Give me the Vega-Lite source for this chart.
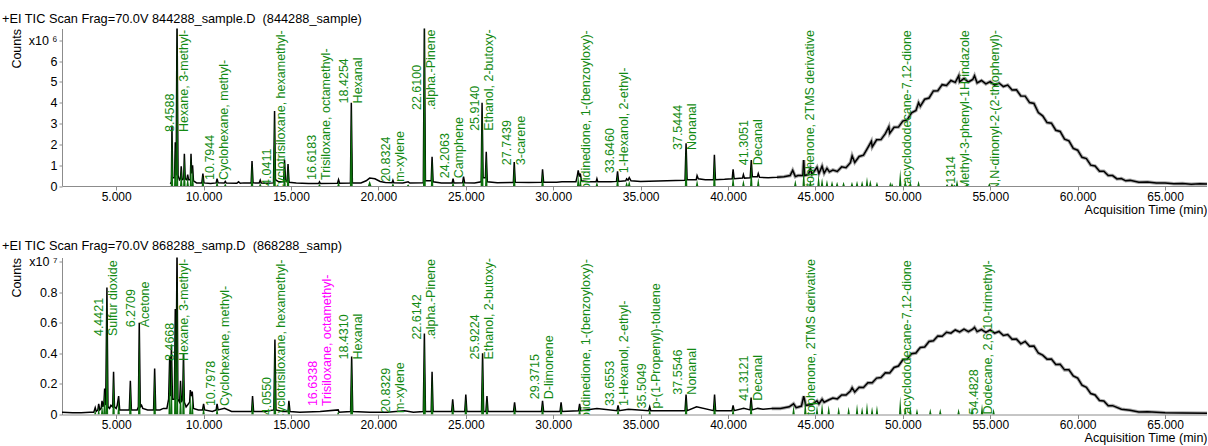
{
"$schema":"https://vega.github.io/schema/vega-lite/v6.json",
"padding":{"left":2,"top":12.5,"right":0,"bottom":0},
"spacing":24,
"config":{"font":"Liberation Sans","view":{"stroke":null},"axis":{"labelColor":"black","titleColor":"black","domainColor":"#8c8c8c","tickColor":"#8c8c8c","grid":false}},
"datasets":{
"tic1":[{"t":8.1,"v":0.1},{"t":8.16,"v":0.2},{"t":8.19,"v":2.9},{"t":8.23,"v":0.4},{"t":8.34,"v":0.4},{"t":8.38,"v":2.1},{"t":8.43,"v":0.5},{"t":8.48,"v":8.2},{"t":8.54,"v":0.5},{"t":8.62,"v":0.3},{"t":8.68,"v":0.35},{"t":8.72,"v":0.95},{"t":8.77,"v":0.3},{"t":8.86,"v":0.35},{"t":8.9,"v":1.55},{"t":8.95,"v":0.35},{"t":9.04,"v":0.3},{"t":9.09,"v":0.55},{"t":9.14,"v":0.3},{"t":9.24,"v":0.3},{"t":9.28,"v":1.55},{"t":9.32,"v":0.6},{"t":9.37,"v":1.0},{"t":9.42,"v":0.25},{"t":9.6,"v":0.15},{"t":9.9,"v":0.15},{"t":9.96,"v":0.6},{"t":10.02,"v":0.15},{"t":10.4,"v":0.12},{"t":10.72,"v":0.15},{"t":10.77,"v":0.35},{"t":10.83,"v":0.15},{"t":11.18,"v":0.14},{"t":11.24,"v":0.22},{"t":11.3,"v":0.14},{"t":11.9,"v":0.13},{"t":12.0,"v":0.2},{"t":12.1,"v":0.13},{"t":12.3,"v":0.15},{"t":12.72,"v":0.15},{"t":12.77,"v":1.2},{"t":12.83,"v":0.15},{"t":13.18,"v":0.14},{"t":13.24,"v":0.28},{"t":13.3,"v":0.14},{"t":13.6,"v":0.13},{"t":14.0,"v":0.15},{"t":14.06,"v":3.6},{"t":14.11,"v":0.3},{"t":14.3,"v":0.2},{"t":14.58,"v":0.2},{"t":14.63,"v":1.25},{"t":14.69,"v":0.25},{"t":14.78,"v":0.2},{"t":14.83,"v":1.05},{"t":14.89,"v":0.18},{"t":15.3,"v":0.14},{"t":16.0,"v":0.12},{"t":16.58,"v":0.12},{"t":16.63,"v":0.2},{"t":16.68,"v":0.12},{"t":17.66,"v":0.13},{"t":17.72,"v":0.3},{"t":17.78,"v":0.13},{"t":18.4,"v":0.14},{"t":18.45,"v":4.0},{"t":18.51,"v":0.15},{"t":19.0,"v":0.15},{"t":19.3,"v":0.25},{"t":19.5,"v":0.38},{"t":19.8,"v":0.35},{"t":20.1,"v":0.22},{"t":20.4,"v":0.17},{"t":20.78,"v":0.16},{"t":20.83,"v":0.28},{"t":20.88,"v":0.16},{"t":21.4,"v":0.14},{"t":21.7,"v":0.2},{"t":21.8,"v":0.14},{"t":22.57,"v":0.15},{"t":22.63,"v":8.0},{"t":22.69,"v":0.25},{"t":23.02,"v":0.25},{"t":23.07,"v":1.4},{"t":23.13,"v":0.2},{"t":23.6,"v":0.15},{"t":24.22,"v":0.15},{"t":24.27,"v":0.35},{"t":24.32,"v":0.15},{"t":24.82,"v":0.16},{"t":24.87,"v":0.45},{"t":24.93,"v":0.16},{"t":25.5,"v":0.15},{"t":25.88,"v":0.2},{"t":25.93,"v":4.0},{"t":25.99,"v":0.4},{"t":26.12,"v":0.4},{"t":26.17,"v":1.65},{"t":26.23,"v":0.2},{"t":26.8,"v":0.16},{"t":27.72,"v":0.17},{"t":27.77,"v":1.15},{"t":27.83,"v":0.18},{"t":28.6,"v":0.17},{"t":29.34,"v":0.18},{"t":29.39,"v":0.8},{"t":29.45,"v":0.18},{"t":30.2,"v":0.18},{"t":30.5,"v":0.2},{"t":31.3,"v":0.2},{"t":31.38,"v":0.5},{"t":31.43,"v":0.75},{"t":31.5,"v":0.45},{"t":31.55,"v":0.6},{"t":31.62,"v":0.25},{"t":32.0,"v":0.2},{"t":32.45,"v":0.2},{"t":32.5,"v":0.35},{"t":32.55,"v":0.2},{"t":33.3,"v":0.2},{"t":33.62,"v":0.22},{"t":33.68,"v":0.7},{"t":33.74,"v":0.22},{"t":34.15,"v":0.25},{"t":34.2,"v":0.35},{"t":34.28,"v":0.28},{"t":34.35,"v":0.4},{"t":34.45,"v":0.25},{"t":35.0,"v":0.22},{"t":36.0,"v":0.24},{"t":37.0,"v":0.26},{"t":37.54,"v":0.28},{"t":37.6,"v":2.05},{"t":37.66,"v":0.3},{"t":38.18,"v":0.3},{"t":38.23,"v":0.5},{"t":38.3,"v":0.35},{"t":38.7,"v":0.3},{"t":39.17,"v":0.3},{"t":39.22,"v":1.5},{"t":39.28,"v":0.3},{"t":39.8,"v":0.32},{"t":40.24,"v":0.35},{"t":40.29,"v":0.8},{"t":40.35,"v":0.35},{"t":40.83,"v":0.38},{"t":40.88,"v":0.55},{"t":40.94,"v":0.38},{"t":41.27,"v":0.4},{"t":41.33,"v":1.25},{"t":41.39,"v":0.45},{"t":41.68,"v":0.45},{"t":41.73,"v":0.6},{"t":41.8,"v":0.42},{"t":42.3,"v":0.4},{"t":42.8,"v":0.42},{"t":43.2,"v":0.45},{"t":43.55,"v":0.5},{"t":43.7,"v":0.75},{"t":43.85,"v":0.45},{"t":44.0,"v":0.5},{"t":44.28,"v":0.5},{"t":44.33,"v":1.25},{"t":44.38,"v":0.5},{"t":44.6,"v":0.55},{"t":44.71,"v":0.85},{"t":44.8,"v":0.55},{"t":45.09,"v":0.9},{"t":45.2,"v":0.6},{"t":45.38,"v":0.95},{"t":45.5,"v":0.62},{"t":45.66,"v":0.85},{"t":45.8,"v":0.68},{"t":46.0,"v":0.77},{"t":46.25,"v":0.7},{"t":46.5,"v":0.92},{"t":46.75,"v":0.88},{"t":47.0,"v":1.12},{"t":47.1,"v":1.45},{"t":47.25,"v":1.13},{"t":47.5,"v":1.42},{"t":47.75,"v":1.48},{"t":48.0,"v":1.85},{"t":48.2,"v":2.15},{"t":48.25,"v":1.88},{"t":48.5,"v":2.22},{"t":48.75,"v":2.23},{"t":49.0,"v":2.52},{"t":49.2,"v":2.85},{"t":49.25,"v":2.53},{"t":49.5,"v":2.82},{"t":49.75,"v":2.83},{"t":50.0,"v":3.12},{"t":50.25,"v":3.18},{"t":50.5,"v":3.52},{"t":50.75,"v":3.63},{"t":50.9,"v":4.0},{"t":51.0,"v":3.83},{"t":51.25,"v":4.17},{"t":51.5,"v":4.23},{"t":51.75,"v":4.57},{"t":52.0,"v":4.58},{"t":52.25,"v":4.87},{"t":52.5,"v":4.83},{"t":52.75,"v":5.07},{"t":53.0,"v":4.98},{"t":53.2,"v":5.3},{"t":53.25,"v":5.01},{"t":53.5,"v":5.17},{"t":53.75,"v":5.0},{"t":54.0,"v":5.12},{"t":54.1,"v":5.3},{"t":54.25,"v":4.95},{"t":54.5,"v":5.07},{"t":54.75,"v":4.91},{"t":55.0,"v":5.02},{"t":55.25,"v":4.85},{"t":55.5,"v":4.95},{"t":55.75,"v":4.78},{"t":56.0,"v":4.85},{"t":56.25,"v":4.61},{"t":56.5,"v":4.62},{"t":56.75,"v":4.33},{"t":57.0,"v":4.32},{"t":57.25,"v":4.01},{"t":57.5,"v":3.97},{"t":57.75,"v":3.53},{"t":58.0,"v":3.37},{"t":58.25,"v":3.05},{"t":58.5,"v":3.02},{"t":58.75,"v":2.68},{"t":59.0,"v":2.62},{"t":59.25,"v":2.25},{"t":59.5,"v":2.17},{"t":59.75,"v":1.81},{"t":60.0,"v":1.72},{"t":60.25,"v":1.38},{"t":60.5,"v":1.32},{"t":60.75,"v":1.0},{"t":61.0,"v":0.96},{"t":61.25,"v":0.71},{"t":61.5,"v":0.71},{"t":61.75,"v":0.5},{"t":62.0,"v":0.5},{"t":62.25,"v":0.34},{"t":62.5,"v":0.36},{"t":62.75,"v":0.25},{"t":63.0,"v":0.27},{"t":63.5,"v":0.18},{"t":64.0,"v":0.19},{"t":64.5,"v":0.14},{"t":65.0,"v":0.15},{"t":65.5,"v":0.11},{"t":66.0,"v":0.12},{"t":66.5,"v":0.09},{"t":67.0,"v":0.11},{"t":67.4,"v":0.1}],
"tic2":[{"t":1.9,"v":0.015},{"t":2.5,"v":0.012},{"t":3.0,"v":0.012},{"t":3.5,"v":0.015},{"t":3.72,"v":0.015},{"t":3.8,"v":0.045},{"t":3.86,"v":0.02},{"t":3.95,"v":0.03},{"t":4.0,"v":0.07},{"t":4.06,"v":0.03},{"t":4.14,"v":0.04},{"t":4.19,"v":0.09},{"t":4.24,"v":0.05},{"t":4.3,"v":0.08},{"t":4.34,"v":0.17},{"t":4.4,"v":0.06},{"t":4.47,"v":0.83},{"t":4.53,"v":0.05},{"t":4.62,"v":0.04},{"t":4.7,"v":0.06},{"t":4.8,"v":0.05},{"t":4.85,"v":0.28},{"t":4.9,"v":0.05},{"t":5.0,"v":0.04},{"t":5.06,"v":0.06},{"t":5.14,"v":0.12},{"t":5.2,"v":0.03},{"t":5.6,"v":0.03},{"t":5.75,"v":0.03},{"t":5.81,"v":0.22},{"t":5.87,"v":0.03},{"t":6.2,"v":0.03},{"t":6.27,"v":0.05},{"t":6.32,"v":0.6},{"t":6.38,"v":0.05},{"t":6.45,"v":0.06},{"t":6.52,"v":0.04},{"t":6.8,"v":0.03},{"t":7.14,"v":0.03},{"t":7.2,"v":0.3},{"t":7.26,"v":0.03},{"t":7.5,"v":0.03},{"t":7.7,"v":0.04},{"t":7.9,"v":0.04},{"t":8.0,"v":0.1},{"t":8.06,"v":0.38},{"t":8.1,"v":0.12},{"t":8.16,"v":0.45},{"t":8.22,"v":0.1},{"t":8.33,"v":0.1},{"t":8.38,"v":0.69},{"t":8.42,"v":0.1},{"t":8.48,"v":1.1},{"t":8.53,"v":0.1},{"t":8.63,"v":0.08},{"t":8.68,"v":0.22},{"t":8.73,"v":0.08},{"t":8.8,"v":0.1},{"t":8.85,"v":0.4},{"t":8.9,"v":0.08},{"t":9.0,"v":0.05},{"t":9.2,"v":0.08},{"t":9.24,"v":0.16},{"t":9.3,"v":0.12},{"t":9.35,"v":0.15},{"t":9.42,"v":0.04},{"t":9.7,"v":0.03},{"t":9.94,"v":0.03},{"t":10.0,"v":0.07},{"t":10.06,"v":0.03},{"t":10.5,"v":0.02},{"t":10.72,"v":0.03},{"t":10.77,"v":0.07},{"t":10.83,"v":0.03},{"t":11.2,"v":0.04},{"t":11.6,"v":0.02},{"t":12.5,"v":0.02},{"t":12.75,"v":0.02},{"t":12.8,"v":0.12},{"t":12.86,"v":0.02},{"t":13.5,"v":0.02},{"t":14.02,"v":0.03},{"t":14.08,"v":0.49},{"t":14.14,"v":0.03},{"t":14.5,"v":0.02},{"t":14.83,"v":0.02},{"t":14.88,"v":0.09},{"t":14.94,"v":0.02},{"t":15.5,"v":0.015},{"t":16.67,"v":0.02},{"t":17.7,"v":0.03},{"t":17.75,"v":0.015},{"t":18.41,"v":0.02},{"t":18.47,"v":0.38},{"t":18.53,"v":0.02},{"t":19.5,"v":0.015},{"t":20.5,"v":0.015},{"t":21.5,"v":0.025},{"t":22.0,"v":0.015},{"t":22.57,"v":0.02},{"t":22.63,"v":0.53},{"t":22.69,"v":0.02},{"t":23.02,"v":0.02},{"t":23.07,"v":0.28},{"t":23.13,"v":0.02},{"t":24.19,"v":0.02},{"t":24.25,"v":0.1},{"t":24.31,"v":0.02},{"t":24.94,"v":0.02},{"t":25.0,"v":0.13},{"t":25.06,"v":0.02},{"t":25.9,"v":0.02},{"t":25.96,"v":0.4},{"t":26.02,"v":0.02},{"t":26.15,"v":0.02},{"t":26.21,"v":0.12},{"t":26.27,"v":0.02},{"t":27.73,"v":0.02},{"t":27.79,"v":0.08},{"t":27.85,"v":0.02},{"t":29.33,"v":0.02},{"t":29.39,"v":0.09},{"t":29.45,"v":0.02},{"t":30.39,"v":0.02},{"t":30.45,"v":0.08},{"t":30.51,"v":0.02},{"t":31.45,"v":0.025},{"t":31.51,"v":0.07},{"t":31.57,"v":0.025},{"t":32.5,"v":0.04},{"t":33.65,"v":0.025},{"t":33.71,"v":0.06},{"t":33.77,"v":0.025},{"t":34.3,"v":0.035},{"t":35.46,"v":0.025},{"t":35.52,"v":0.05},{"t":35.58,"v":0.025},{"t":37.54,"v":0.025},{"t":37.6,"v":0.13},{"t":37.66,"v":0.025},{"t":38.2,"v":0.05},{"t":39.17,"v":0.025},{"t":39.23,"v":0.13},{"t":39.29,"v":0.025},{"t":40.23,"v":0.025},{"t":40.29,"v":0.06},{"t":40.35,"v":0.025},{"t":40.9,"v":0.04},{"t":41.26,"v":0.03},{"t":41.32,"v":0.11},{"t":41.38,"v":0.03},{"t":41.7,"v":0.04},{"t":42.0,"v":0.035},{"t":42.5,"v":0.04},{"t":43.0,"v":0.04},{"t":43.5,"v":0.05},{"t":43.75,"v":0.07},{"t":43.9,"v":0.045},{"t":44.2,"v":0.055},{"t":44.33,"v":0.12},{"t":44.45,"v":0.06},{"t":44.8,"v":0.065},{"t":45.09,"v":0.09},{"t":45.2,"v":0.07},{"t":45.38,"v":0.1},{"t":45.5,"v":0.08},{"t":45.75,"v":0.095},{"t":46.0,"v":0.108},{"t":46.25,"v":0.102},{"t":46.5,"v":0.128},{"t":46.75,"v":0.127},{"t":47.0,"v":0.153},{"t":47.1,"v":0.175},{"t":47.25,"v":0.147},{"t":47.5,"v":0.178},{"t":47.75,"v":0.177},{"t":48.0,"v":0.208},{"t":48.25,"v":0.207},{"t":48.5,"v":0.238},{"t":48.75,"v":0.242},{"t":49.0,"v":0.273},{"t":49.25,"v":0.272},{"t":49.5,"v":0.308},{"t":49.75,"v":0.317},{"t":50.0,"v":0.358},{"t":50.25,"v":0.362},{"t":50.5,"v":0.398},{"t":50.75,"v":0.402},{"t":50.9,"v":0.425},{"t":51.0,"v":0.438},{"t":51.25,"v":0.442},{"t":51.5,"v":0.478},{"t":51.75,"v":0.482},{"t":52.0,"v":0.513},{"t":52.25,"v":0.512},{"t":52.5,"v":0.538},{"t":52.75,"v":0.532},{"t":53.0,"v":0.553},{"t":53.25,"v":0.54},{"t":53.5,"v":0.558},{"t":53.75,"v":0.542},{"t":54.0,"v":0.558},{"t":54.1,"v":0.57},{"t":54.25,"v":0.542},{"t":54.5,"v":0.556},{"t":54.75,"v":0.537},{"t":55.0,"v":0.553},{"t":55.25,"v":0.532},{"t":55.5,"v":0.543},{"t":55.75,"v":0.517},{"t":56.0,"v":0.523},{"t":56.25,"v":0.492},{"t":56.5,"v":0.493},{"t":56.75,"v":0.462},{"t":57.0,"v":0.478},{"t":57.25,"v":0.447},{"t":57.5,"v":0.448},{"t":57.75,"v":0.402},{"t":58.0,"v":0.388},{"t":58.25,"v":0.362},{"t":58.5,"v":0.363},{"t":58.75,"v":0.327},{"t":59.0,"v":0.328},{"t":59.25,"v":0.292},{"t":59.5,"v":0.293},{"t":59.75,"v":0.252},{"t":60.0,"v":0.238},{"t":60.25,"v":0.192},{"t":60.5,"v":0.178},{"t":60.75,"v":0.137},{"t":61.0,"v":0.128},{"t":61.25,"v":0.092},{"t":61.5,"v":0.088},{"t":61.75,"v":0.057},{"t":62.0,"v":0.058},{"t":62.5,"v":0.035},{"t":63.0,"v":0.028},{"t":63.5,"v":0.017},{"t":64.0,"v":0.018},{"t":65.0,"v":0.011},{"t":66.0,"v":0.01},{"t":67.4,"v":0.008}],
"g1":[{"t":8.12,"v":0},{"t":8.19,"v":2.75},{"t":8.26,"v":0},{"t":8.31,"v":0},{"t":8.38,"v":2.0},{"t":8.43,"v":0},{"t":8.48,"v":8.0},{"t":8.55,"v":0},{"t":8.65,"v":0},{"t":8.72,"v":0.85},{"t":8.79,"v":0},{"t":8.83,"v":0},{"t":8.9,"v":1.45},{"t":8.97,"v":0},{"t":9.02,"v":0},{"t":9.09,"v":0.45},{"t":9.16,"v":0},{"t":9.21,"v":0},{"t":9.28,"v":1.5},{"t":9.325,"v":0},{"t":9.37,"v":0.9},{"t":9.44,"v":0},{"t":9.89,"v":0},{"t":9.96,"v":0.5},{"t":10.03,"v":0},{"t":10.7,"v":0},{"t":10.77,"v":0.25},{"t":10.84,"v":0},{"t":11.17,"v":0},{"t":11.24,"v":0.12},{"t":11.31,"v":0},{"t":12.7,"v":0},{"t":12.77,"v":1.1},{"t":12.84,"v":0},{"t":13.17,"v":0},{"t":13.24,"v":0.15},{"t":13.31,"v":0},{"t":13.98,"v":0},{"t":14.06,"v":3.4},{"t":14.13,"v":0},{"t":14.56,"v":0},{"t":14.63,"v":1.15},{"t":14.7,"v":0},{"t":14.76,"v":0},{"t":14.83,"v":0.95},{"t":14.9,"v":0},{"t":16.56,"v":0},{"t":16.63,"v":0.1},{"t":16.7,"v":0},{"t":17.65,"v":0},{"t":17.72,"v":0.2},{"t":17.79,"v":0},{"t":18.37,"v":0},{"t":18.45,"v":3.85},{"t":18.53,"v":0},{"t":19.4,"v":0},{"t":19.5,"v":0.25},{"t":19.6,"v":0},{"t":20.76,"v":0},{"t":20.83,"v":0.15},{"t":20.9,"v":0},{"t":21.63,"v":0},{"t":21.7,"v":0.08},{"t":21.77,"v":0},{"t":22.55,"v":0},{"t":22.63,"v":8.0},{"t":22.71,"v":0},{"t":23.0,"v":0},{"t":23.07,"v":1.3},{"t":23.14,"v":0},{"t":24.2,"v":0},{"t":24.27,"v":0.2},{"t":24.34,"v":0},{"t":24.8,"v":0},{"t":24.87,"v":0.3},{"t":24.94,"v":0},{"t":25.85,"v":0},{"t":25.93,"v":3.85},{"t":26.01,"v":0},{"t":26.1,"v":0},{"t":26.17,"v":1.5},{"t":26.24,"v":0},{"t":27.7,"v":0},{"t":27.77,"v":1.0},{"t":27.84,"v":0},{"t":29.32,"v":0},{"t":29.39,"v":0.65},{"t":29.46,"v":0},{"t":31.36,"v":0},{"t":31.43,"v":0.6},{"t":31.49,"v":0},{"t":31.55,"v":0.45},{"t":31.62,"v":0},{"t":32.43,"v":0},{"t":32.5,"v":0.2},{"t":32.57,"v":0},{"t":33.61,"v":0},{"t":33.68,"v":0.55},{"t":33.75,"v":0},{"t":34.13,"v":0},{"t":34.2,"v":0.2},{"t":34.27,"v":0},{"t":34.35,"v":0.25},{"t":34.42,"v":0},{"t":37.53,"v":0},{"t":37.6,"v":1.9},{"t":37.67,"v":0},{"t":38.16,"v":0},{"t":38.23,"v":0.3},{"t":38.3,"v":0},{"t":39.15,"v":0},{"t":39.22,"v":1.35},{"t":39.29,"v":0},{"t":40.22,"v":0},{"t":40.29,"v":0.55},{"t":40.36,"v":0},{"t":40.81,"v":0},{"t":40.88,"v":0.3},{"t":40.95,"v":0},{"t":41.26,"v":0},{"t":41.33,"v":1.1},{"t":41.4,"v":0},{"t":41.66,"v":0},{"t":41.73,"v":0.4},{"t":41.8,"v":0},{"t":43.78,"v":0},{"t":43.85,"v":0.3},{"t":43.92,"v":0},{"t":44.26,"v":0},{"t":44.33,"v":0.9},{"t":44.4,"v":0},{"t":44.64,"v":0},{"t":44.71,"v":0.3},{"t":44.78,"v":0},{"t":45.11,"v":0},{"t":45.18,"v":0.55},{"t":45.25,"v":0},{"t":45.31,"v":0},{"t":45.38,"v":0.4},{"t":45.45,"v":0},{"t":45.59,"v":0},{"t":45.66,"v":0.3},{"t":45.73,"v":0},{"t":45.88,"v":0},{"t":45.95,"v":0.25},{"t":46.02,"v":0},{"t":46.17,"v":0},{"t":46.24,"v":0.2},{"t":46.31,"v":0},{"t":46.54,"v":0},{"t":46.61,"v":0.2},{"t":46.68,"v":0},{"t":47.02,"v":0},{"t":47.09,"v":0.2},{"t":47.16,"v":0},{"t":47.31,"v":0},{"t":47.38,"v":0.25},{"t":47.45,"v":0},{"t":47.6,"v":0},{"t":47.67,"v":0.25},{"t":47.74,"v":0},{"t":47.88,"v":0},{"t":47.95,"v":0.45},{"t":48.02,"v":0},{"t":48.07,"v":0},{"t":48.14,"v":0.3},{"t":48.21,"v":0},{"t":48.45,"v":0},{"t":48.52,"v":0.2},{"t":48.59,"v":0},{"t":49.22,"v":0},{"t":49.29,"v":0.2},{"t":49.335,"v":0},{"t":49.38,"v":0.15},{"t":49.45,"v":0},{"t":49.78,"v":0},{"t":49.85,"v":0.8},{"t":49.92,"v":0},{"t":50.07,"v":0},{"t":50.14,"v":0.3},{"t":50.21,"v":0},{"t":50.36,"v":0},{"t":50.43,"v":0.2},{"t":50.5,"v":0},{"t":50.83,"v":0},{"t":50.9,"v":0.25},{"t":50.97,"v":0},{"t":52.46,"v":0},{"t":52.53,"v":0.1},{"t":52.6,"v":0},{"t":52.74,"v":0},{"t":52.81,"v":0.15},{"t":52.88,"v":0},{"t":53.03,"v":0},{"t":53.1,"v":0.3},{"t":53.17,"v":0},{"t":53.6,"v":0},{"t":53.67,"v":0.15},{"t":53.74,"v":0},{"t":54.88,"v":0},{"t":54.95,"v":0.15},{"t":55.02,"v":0}],
"g2":[{"t":3.74,"v":0},{"t":3.8,"v":0.03},{"t":3.86,"v":0},{"t":3.94,"v":0},{"t":4.0,"v":0.05},{"t":4.06,"v":0},{"t":4.13,"v":0},{"t":4.19,"v":0.07},{"t":4.26,"v":0},{"t":4.34,"v":0.15},{"t":4.405,"v":0},{"t":4.47,"v":0.78},{"t":4.54,"v":0},{"t":4.78,"v":0},{"t":4.85,"v":0.25},{"t":4.92,"v":0},{"t":5.07,"v":0},{"t":5.14,"v":0.1},{"t":5.21,"v":0},{"t":5.74,"v":0},{"t":5.81,"v":0.2},{"t":5.88,"v":0},{"t":6.25,"v":0},{"t":6.32,"v":0.56},{"t":6.39,"v":0},{"t":7.13,"v":0},{"t":7.2,"v":0.27},{"t":7.27,"v":0},{"t":7.99,"v":0},{"t":8.06,"v":0.36},{"t":8.11,"v":0},{"t":8.16,"v":0.42},{"t":8.22,"v":0},{"t":8.31,"v":0},{"t":8.38,"v":0.66},{"t":8.43,"v":0},{"t":8.48,"v":0.95},{"t":8.55,"v":0},{"t":8.61,"v":0},{"t":8.68,"v":0.2},{"t":8.75,"v":0},{"t":8.78,"v":0},{"t":8.85,"v":0.38},{"t":8.92,"v":0},{"t":9.17,"v":0},{"t":9.24,"v":0.14},{"t":9.295,"v":0},{"t":9.35,"v":0.13},{"t":9.42,"v":0},{"t":9.93,"v":0},{"t":10.0,"v":0.05},{"t":10.07,"v":0},{"t":10.7,"v":0},{"t":10.77,"v":0.05},{"t":10.84,"v":0},{"t":12.73,"v":0},{"t":12.8,"v":0.1},{"t":12.87,"v":0},{"t":14.0,"v":0},{"t":14.08,"v":0.46},{"t":14.15,"v":0},{"t":14.81,"v":0},{"t":14.88,"v":0.07},{"t":14.95,"v":0},{"t":17.63,"v":0},{"t":17.7,"v":0.02},{"t":17.77,"v":0},{"t":18.39,"v":0},{"t":18.47,"v":0.36},{"t":18.55,"v":0},{"t":22.55,"v":0},{"t":22.63,"v":0.5},{"t":22.71,"v":0},{"t":23.0,"v":0},{"t":23.07,"v":0.26},{"t":23.14,"v":0},{"t":24.18,"v":0},{"t":24.25,"v":0.08},{"t":24.32,"v":0},{"t":24.93,"v":0},{"t":25.0,"v":0.11},{"t":25.07,"v":0},{"t":25.88,"v":0},{"t":25.96,"v":0.37},{"t":26.04,"v":0},{"t":26.14,"v":0},{"t":26.21,"v":0.1},{"t":26.28,"v":0},{"t":27.72,"v":0},{"t":27.79,"v":0.06},{"t":27.86,"v":0},{"t":29.32,"v":0},{"t":29.39,"v":0.07},{"t":29.46,"v":0},{"t":30.38,"v":0},{"t":30.45,"v":0.06},{"t":30.52,"v":0},{"t":31.44,"v":0},{"t":31.51,"v":0.05},{"t":31.58,"v":0},{"t":33.64,"v":0},{"t":33.71,"v":0.045},{"t":33.78,"v":0},{"t":35.45,"v":0},{"t":35.52,"v":0.035},{"t":35.59,"v":0},{"t":37.53,"v":0},{"t":37.6,"v":0.11},{"t":37.67,"v":0},{"t":39.16,"v":0},{"t":39.23,"v":0.11},{"t":39.3,"v":0},{"t":40.22,"v":0},{"t":40.29,"v":0.045},{"t":40.36,"v":0},{"t":41.25,"v":0},{"t":41.32,"v":0.09},{"t":41.39,"v":0},{"t":43.68,"v":0},{"t":43.75,"v":0.06},{"t":43.82,"v":0},{"t":44.35,"v":0},{"t":44.42,"v":0.1},{"t":44.49,"v":0},{"t":45.02,"v":0},{"t":45.09,"v":0.06},{"t":45.16,"v":0},{"t":45.31,"v":0},{"t":45.38,"v":0.08},{"t":45.45,"v":0},{"t":45.69,"v":0},{"t":45.76,"v":0.06},{"t":45.83,"v":0},{"t":46.26,"v":0},{"t":46.33,"v":0.05},{"t":46.4,"v":0},{"t":46.83,"v":0},{"t":46.9,"v":0.05},{"t":46.97,"v":0},{"t":47.31,"v":0},{"t":47.38,"v":0.07},{"t":47.45,"v":0},{"t":47.6,"v":0},{"t":47.67,"v":0.05},{"t":47.74,"v":0},{"t":47.88,"v":0},{"t":47.95,"v":0.08},{"t":48.02,"v":0},{"t":48.17,"v":0},{"t":48.24,"v":0.05},{"t":48.31,"v":0},{"t":48.45,"v":0},{"t":48.52,"v":0.06},{"t":48.59,"v":0},{"t":49.78,"v":0},{"t":49.85,"v":0.12},{"t":49.92,"v":0},{"t":50.07,"v":0},{"t":50.14,"v":0.05},{"t":50.21,"v":0},{"t":50.36,"v":0},{"t":50.43,"v":0.05},{"t":50.5,"v":0},{"t":50.74,"v":0},{"t":50.81,"v":0.04},{"t":50.88,"v":0},{"t":51.5,"v":0},{"t":51.57,"v":0.04},{"t":51.64,"v":0},{"t":52.07,"v":0},{"t":52.14,"v":0.04},{"t":52.21,"v":0},{"t":53.12,"v":0},{"t":53.19,"v":0.04},{"t":53.26,"v":0},{"t":53.89,"v":0},{"t":53.96,"v":0.05},{"t":54.03,"v":0},{"t":54.46,"v":0},{"t":54.53,"v":0.07},{"t":54.6,"v":0},{"t":55.12,"v":0},{"t":55.19,"v":0.04},{"t":55.26,"v":0}],
"lab1":[{"rt":8.4588,"rtl":"8.4588","name":"Hexane, 3-methyl-","ly":2.6,"q":"ok"},{"rt":10.7944,"rtl":"10.7944","name":"Cyclohexane, methyl-","ly":0.29,"q":"ok"},{"rt":14.0411,"rtl":"14.0411","name":"Cyclotrisiloxane, hexamethyl-","ly":-0.33,"q":"ok"},{"rt":16.6183,"rtl":"16.6183","name":"Trisiloxane, octamethyl-","ly":0.29,"q":"ok"},{"rt":18.4254,"rtl":"18.4254","name":"Hexanal","ly":3.97,"q":"ok"},{"rt":20.8324,"rtl":"20.8324","name":"m-xylene","ly":0.2,"q":"ok"},{"rt":22.61,"rtl":"22.6100","name":".alpha.-Pinene","ly":3.65,"q":"ok"},{"rt":24.2063,"rtl":"24.2063","name":"Camphene","ly":0.37,"q":"ok"},{"rt":25.914,"rtl":"25.9140","name":"Ethanol, 2-butoxy-","ly":2.65,"q":"ok"},{"rt":27.7439,"rtl":"27.7439","name":"3-carene","ly":1.0,"q":"ok"},{"rt":31.4858,"rtl":"31.4858","name":"2,5-Pyrrolidinedione, 1-(benzoyloxy)-","ly":-2.33,"q":"ok"},{"rt":33.646,"rtl":"33.6460","name":"1-Hexanol, 2-ethyl-","ly":0.61,"q":"ok"},{"rt":37.5444,"rtl":"37.5444","name":"Nonanal","ly":1.73,"q":"ok"},{"rt":41.3051,"rtl":"41.3051","name":"Decanal","ly":1.0,"q":"ok"},{"rt":44.3157,"rtl":"44.3157","name":"4-Hydroxyacetophenone, 2TMS derivative","ly":-3.73,"q":"ok"},{"rt":49.8461,"rtl":"49.8461","name":"1,6-Dioxacyclododecane-7,12-dione","ly":-2.13,"q":"ok"},{"rt":53.1314,"rtl":"53.1314","name":"1-Methyl-3-phenyl-1H-indazole","ly":-0.73,"q":"ok"},{"rt":54.85,"rtl":"54.8503","name":"Ethylamine, N,N-dinonyl-2-(2-thiophenyl)-","ly":-3.56,"q":"ok"}],
"lab2":[{"rt":4.4421,"rtl":"4.4421","name":"Sulfur dioxide","ly":0.513,"q":"ok"},{"rt":6.2709,"rtl":"6.2709","name":"Acetone","ly":0.57,"q":"ok"},{"rt":8.4668,"rtl":"8.4668","name":"Hexane, 3-methyl-","ly":0.35,"q":"ok"},{"rt":10.7978,"rtl":"10.7978","name":"Cyclohexane, methyl-","ly":0.055,"q":"ok"},{"rt":14.055,"rtl":"14.0550","name":"Cyclotrisiloxane, hexamethyl-","ly":-0.05,"q":"ok"},{"rt":16.6338,"rtl":"16.6338","name":"Trisiloxane, octamethyl-","ly":0.055,"q":"low"},{"rt":18.431,"rtl":"18.4310","name":"Hexanal","ly":0.36,"q":"ok"},{"rt":20.8329,"rtl":"20.8329","name":"m-xylene","ly":0.01,"q":"ok"},{"rt":22.6142,"rtl":"22.6142","name":".alpha.-Pinene","ly":0.49,"q":"ok"},{"rt":25.9224,"rtl":"25.9224","name":"Ethanol, 2-butoxy-","ly":0.36,"q":"ok"},{"rt":29.3715,"rtl":"29.3715","name":"D-limonene","ly":0.1,"q":"ok"},{"rt":31.4921,"rtl":"31.4921","name":"2,5-Pyrrolidinedione, 1-(benzoyloxy)-","ly":-0.32,"q":"ok"},{"rt":33.6553,"rtl":"33.6553","name":"1-Hexanol, 2-ethyl-","ly":0.055,"q":"ok"},{"rt":35.5049,"rtl":"35.5049","name":"p-(1-Propenyl)-toluene","ly":0.04,"q":"ok"},{"rt":37.5546,"rtl":"37.5546","name":"Nonanal","ly":0.13,"q":"ok"},{"rt":41.3121,"rtl":"41.3121","name":"Decanal","ly":0.09,"q":"ok"},{"rt":44.3712,"rtl":"44.3712","name":"4-Hydroxyacetophenone, 2TMS derivative","ly":-0.51,"q":"ok"},{"rt":49.8402,"rtl":"49.8402","name":"1,6-Dioxacyclododecane-7,12-dione","ly":-0.3,"q":"ok"},{"rt":54.4828,"rtl":"54.4828","name":"Dodecane, 2,6,10-trimethyl-","ly":0.0,"q":"ok"}]
},
"vconcat":[
{"title":{"text":"+EI TIC Scan Frag=70.0V 844288_sample.D \u00a0(844288_sample)","anchor":"start","frame":"group","dx":-60,"fontSize":12.75,"fontWeight":"normal","offset":3,"color":"black"},
 "width":1145,"height":157.5,
 "encoding":{
   "x":{"type":"quantitative","scale":{"domain":[1.9,67.4],"nice":false,"zero":false},"axis":{"values":[5,10,15,20,25,30,35,40,45,50,55,60,65],"format":".3f","labelFontSize":12,"tickSize":4,"labelPadding":1,"title":"Acquisition Time (min)","titleAnchor":"end","titleFontWeight":"normal","titleFontSize":12.5,"titlePadding":1}},
   "y":{"type":"quantitative","scale":{"domain":[0,7.57],"nice":false},"axis":{"values":[0,1,2,3,4,5,6,7],"tickCount":8,"format":"~g","labelExpr":"datum.value == 7 ? 'x10 ⁶' : datum.label","labelFontSize":12.5,"tickSize":3,"labelPadding":2,"labelOverlap":false,"title":"Counts","titleAnchor":"end","titleFontWeight":"normal","titleFontSize":12.5,"titlePadding":5}}
 },
 "layer":[
  {"data":{"name":"tic1"},"transform":[{"filter":{"field":"t","gte":42.5}}],"mark":{"type":"line","color":"#a8a8a8","strokeWidth":3.5,"clip":true},
   "encoding":{"x":{"field":"t"},"y":{"field":"v"}}},
  {"data":{"name":"tic1"},"mark":{"type":"line","color":"black","strokeWidth":1.5,"clip":true},
   "encoding":{"x":{"field":"t"},"y":{"field":"v"}}},
  {"data":{"name":"g1"},"mark":{"type":"area","color":"#0b6e0b","clip":true},
   "encoding":{"x":{"field":"t"},"y":{"field":"v","stack":null}}},
  {"data":{"name":"lab1"},"mark":{"type":"text","angle":270,"align":"left","baseline":"middle","dy":-7,"fontSize":12.5,"clip":true},
   "encoding":{"x":{"field":"rt"},"y":{"field":"ly"},"text":{"field":"rtl"},"color":{"field":"q","type":"nominal","scale":{"domain":["ok","low"],"range":["#138a13","#ff00ff"]},"legend":null}}},
  {"data":{"name":"lab1"},"mark":{"type":"text","angle":270,"align":"left","baseline":"middle","dy":7,"fontSize":12.5,"clip":true},
   "encoding":{"x":{"field":"rt"},"y":{"field":"ly"},"text":{"field":"name"},"color":{"field":"q","type":"nominal","scale":{"domain":["ok","low"],"range":["#138a13","#ff00ff"]},"legend":null}}}
 ]},
{"title":{"text":"+EI TIC Scan Frag=70.0V 868288_samp.D \u00a0(868288_samp)","anchor":"start","frame":"group","dx":-60,"fontSize":12.75,"fontWeight":"normal","offset":3,"color":"black"},
 "width":1145,"height":157,
 "encoding":{
   "x":{"type":"quantitative","scale":{"domain":[1.9,67.4],"nice":false,"zero":false},"axis":{"values":[5,10,15,20,25,30,35,40,45,50,55,60,65],"format":".3f","labelFontSize":12,"tickSize":4,"labelPadding":1,"title":"Acquisition Time (min)","titleAnchor":"end","titleFontWeight":"normal","titleFontSize":12.5,"titlePadding":1}},
   "y":{"type":"quantitative","scale":{"domain":[0,1.027],"nice":false},"axis":{"values":[0,0.2,0.4,0.6,0.8,1],"tickCount":6,"format":"~g","labelExpr":"datum.value == 1 ? 'x10 ⁷' : datum.label","labelFontSize":12.5,"tickSize":3,"labelPadding":2,"labelOverlap":false,"title":"Counts","titleAnchor":"end","titleFontWeight":"normal","titleFontSize":12.5,"titlePadding":5}}
 },
 "layer":[
  {"data":{"name":"tic2"},"transform":[{"filter":{"field":"t","gte":42.5}}],"mark":{"type":"line","color":"#a8a8a8","strokeWidth":3.5,"clip":true},
   "encoding":{"x":{"field":"t"},"y":{"field":"v"}}},
  {"data":{"name":"tic2"},"mark":{"type":"line","color":"black","strokeWidth":1.5,"clip":true},
   "encoding":{"x":{"field":"t"},"y":{"field":"v"}}},
  {"data":{"name":"g2"},"mark":{"type":"area","color":"#0b6e0b","clip":true},
   "encoding":{"x":{"field":"t"},"y":{"field":"v","stack":null}}},
  {"data":{"name":"lab2"},"mark":{"type":"text","angle":270,"align":"left","baseline":"middle","dy":-7,"fontSize":12.5,"clip":true},
   "encoding":{"x":{"field":"rt"},"y":{"field":"ly"},"text":{"field":"rtl"},"color":{"field":"q","type":"nominal","scale":{"domain":["ok","low"],"range":["#138a13","#ff00ff"]},"legend":null}}},
  {"data":{"name":"lab2"},"mark":{"type":"text","angle":270,"align":"left","baseline":"middle","dy":7,"fontSize":12.5,"clip":true},
   "encoding":{"x":{"field":"rt"},"y":{"field":"ly"},"text":{"field":"name"},"color":{"field":"q","type":"nominal","scale":{"domain":["ok","low"],"range":["#138a13","#ff00ff"]},"legend":null}}}
 ]}
]
}
